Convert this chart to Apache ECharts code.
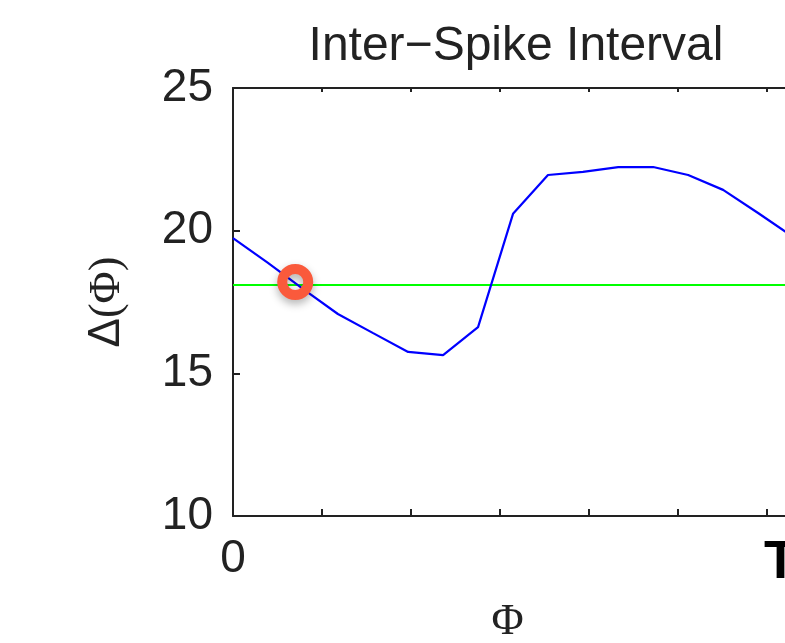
<!DOCTYPE html>
<html>
<head>
    <meta charset="utf-8">
    <title>Inter-Spike Interval</title>
    <script src="https://cdn.jsdelivr.net/npm/echarts@6.0.0/dist/echarts.min.js"></script>
    <style>
        html, body { margin: 0; padding: 0; background: #fff; }
        #chart-container { width: 785px; height: 643px; }
    </style>
</head>
<body>
<div id="chart-container"></div>
<script>
    // phase samples and the inter-spike interval
    var phase = [0, 1.18, 2.36, 3.54, 4.73, 5.91, 7.09, 8.27, 9.45,
                 10.63, 11.81, 13.0, 14.18, 15.36, 16.54, 17.72, 18.9];
    var isi = [19.74, 18.87, 17.96, 17.08, 16.41, 15.75, 15.64, 16.62, 20.59,
               21.95, 22.06, 22.23, 22.23, 21.95, 21.43, 20.62, 19.78];
    var period = 18.1;           // green horizontal line
    var fixedPoint = [2.1, 18.2]; // red ring
    var yTicks = [10, 15, 20, 25];

    var myChart = echarts.init(document.getElementById('chart-container'));

    var curve = [];
    for (var i = 0; i < phase.length; i++) {
        curve.push([phase[i], isi[i]]);
    }

    var axisColor = '#222';
    var sans = 'Liberation Sans, Arial, sans-serif';
    var serif = 'Liberation Serif, Times New Roman, serif';

    var option = {
        animation: false,
        title: {
            text: 'Inter\u2212Spike Interval',
            left: 511,
            top: 18,
            textAlign: 'center',
            textStyle: { fontFamily: sans, fontSize: 48, fontWeight: 'normal', color: '#222' }
        },
        // the axes box runs past the right edge of the picture
        grid: { left: 233, top: 88, width: 563, height: 428, outerBoundsMode: 'none' },
        xAxis: [{
            type: 'value',
            min: 0,
            max: 19,
            interval: 3,
            splitLine: { show: false },
            axisLine: { lineStyle: { color: axisColor, width: 2 } },
            axisTick: { inside: true, length: 7, lineStyle: { color: axisColor, width: 2 } },
            axisLabel: {
                margin: 20,
                fontFamily: sans,
                fontSize: 46,
                color: '#222',
                formatter: function (v) {
                    if (v === 0) return '0';
                    if (v === 18) return '{t|T}';
                    return '';
                },
                rich: {
                    t: { fontFamily: sans, fontSize: 54, fontWeight: 'bold', color: '#000', padding: [0, 0, 0, 28] }
                }
            },
            name: '\u03A6',
            nameLocation: 'middle',
            nameGap: 84,
            nameTextStyle: { fontFamily: serif, fontSize: 44, color: '#222', padding: [0, 14, 0, 0] }
        }, {
            type: 'value',
            position: 'top',
            min: 0,
            max: 19,
            interval: 3,
            splitLine: { show: false },
            axisLine: { onZero: false, lineStyle: { color: axisColor, width: 2 } },
            axisTick: { inside: true, length: 4, lineStyle: { color: axisColor, width: 2 } },
            axisLabel: { show: false }
        }],
        yAxis: {
            type: 'value',
            min: yTicks[0],
            max: yTicks[yTicks.length - 1],
            interval: 5,
            splitLine: { show: false },
            axisLine: { show: true, lineStyle: { color: axisColor, width: 2 } },
            axisTick: { show: true, inside: true, length: 7, lineStyle: { color: axisColor, width: 2 } },
            axisLabel: { margin: 20, fontFamily: sans, fontSize: 46, color: '#222' },
            name: '{d|\u0394}{s|(\u03A6)}',
            nameLocation: 'middle',
            nameRotate: 90,
            nameGap: 104,
            nameTextStyle: {
                rich: {
                    d: { fontFamily: sans, fontSize: 44, color: '#222' },
                    s: { fontFamily: serif, fontSize: 44, color: '#222' }
                }
            }
        },
        series: [{
            name: 'period',
            type: 'line',
            data: [[0, period], [19, period]],
            symbol: 'none',
            lineStyle: { color: '#00ff00', width: 2 },
            z: 2
        }, {
            name: 'ISI',
            type: 'line',
            data: curve,
            symbol: 'none',
            lineStyle: { color: '#0000ff', width: 2.2 },
            z: 3
        }, {
            name: 'fixed point',
            type: 'scatter',
            data: [fixedPoint],
            symbol: 'circle',
            symbolSize: 26,
            itemStyle: {
                color: 'rgba(0,0,0,0)',
                borderColor: '#fa5a3c',
                borderWidth: 10,
                opacity: 1,
                shadowBlur: 8,
                shadowOffsetY: 4,
                shadowColor: 'rgba(0,0,0,0.3)'
            },
            z: 5
        }]
    };

    myChart.setOption(option);
</script>
</body>
</html>
